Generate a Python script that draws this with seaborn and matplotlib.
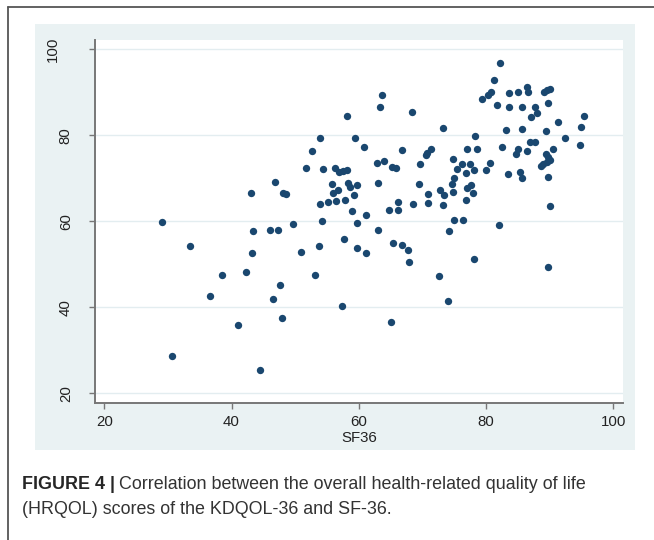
import numpy as np
import pandas as pd
import seaborn as sns
import matplotlib.pyplot as plt
from matplotlib.lines import Line2D
from matplotlib.patches import Rectangle

# values: SF36 (x) against KDQOL-36 overall score (y)
sf36 = [58.1, 53.9, 59.4, 52.7, 51.7, 54.4, 56.3, 56.9, 57.5, 58.1,
        46.8, 43.0, 48.1, 48.6, 55.8, 56.7, 56.0, 58.3, 58.7, 59.7,
        59.3, 57.8, 56.4, 55.2, 53.9, 58.9, 49.7, 54.2, 59.8, 29.0,
        43.4, 46.1, 47.3, 33.4, 53.8, 57.7, 59.8, 43.3, 50.9, 38.5,
        42.3, 53.1, 47.6, 36.6, 46.5, 57.4, 47.9, 41.1, 30.7, 44.5,
        82.2, 81.2, 79.4, 80.3, 80.8, 81.7, 83.7, 85.1, 86.5, 86.6,
        89.1, 89.6, 90.0, 83.7, 85.6, 87.7, 88.1, 87.1, 89.8, 63.6,
        63.4, 68.3, 95.4, 91.4, 95.0, 73.3, 83.1, 85.7, 89.5, 92.5,
        94.8, 78.3, 77.1, 78.6, 60.8, 66.8, 82.6, 86.9, 87.7, 90.6,
        85.1, 84.8, 86.5, 89.5, 89.8, 90.1, 89.6, 89.0, 88.6, 71.3,
        70.8, 70.6, 74.8, 80.7, 80.0, 69.6, 62.9, 63.9, 65.2, 65.9,
        76.2, 77.5, 75.4, 76.8, 78.2, 83.4, 85.3, 85.6, 89.7, 75.0,
        74.7, 74.8, 73.4, 72.8, 69.4, 70.9, 70.9, 73.3, 68.5, 66.2,
        66.1, 64.7, 63.0, 77.0, 77.7, 77.9, 76.8, 61.1, 75.0, 76.4,
        82.0, 90.1, 74.2, 63.1, 61.2, 65.4, 66.8, 67.7, 67.9, 78.2,
        72.7, 74.0, 89.7, 65.0]
kdqol = [84.6, 79.5, 79.5, 76.4, 72.5, 72.2, 72.3, 71.5, 71.7, 72.0,
         69.1, 66.6, 66.5, 66.3, 68.8, 67.4, 66.5, 68.9, 68.0, 68.4,
         66.2, 64.9, 64.7, 64.4, 64.0, 62.4, 59.3, 60.1, 59.7, 59.9,
         57.8, 58.1, 58.0, 54.2, 54.2, 56.0, 53.9, 52.7, 52.9, 47.6,
         48.1, 47.4, 45.1, 42.6, 42.0, 40.3, 37.6, 35.9, 28.6, 25.4,
         96.8, 92.9, 88.4, 89.5, 90.0, 87.1, 89.8, 90.0, 91.2, 90.1,
         90.1, 90.5, 90.8, 86.5, 86.7, 86.6, 85.3, 84.3, 87.5, 89.5,
         86.7, 85.5, 84.4, 83.1, 81.9, 81.6, 81.2, 81.5, 81.1, 79.5,
         77.7, 79.9, 76.8, 76.9, 77.3, 76.7, 77.3, 78.4, 78.4, 76.8,
         76.9, 75.7, 76.4, 75.7, 74.9, 74.3, 73.8, 73.3, 72.9, 76.8,
         75.8, 75.4, 74.6, 73.6, 71.9, 73.3, 73.6, 74.1, 72.6, 72.3,
         73.3, 73.3, 72.1, 71.3, 71.9, 70.9, 71.4, 70.1, 70.4, 70.1,
         68.7, 66.9, 66.1, 67.4, 68.7, 66.3, 64.3, 63.9, 64.0, 64.4,
         62.6, 62.6, 68.9, 67.7, 68.4, 66.5, 65.0, 61.4, 60.2, 60.3,
         59.2, 63.6, 57.7, 58.0, 52.7, 54.9, 54.5, 53.4, 50.6, 51.2,
         47.2, 41.4, 49.3, 36.6]

x_ticks = [20, 40, 60, 80, 100]
y_ticks = [20, 40, 60, 80, 100]

sns.set_theme(style="white")
plt.rcParams['font.family'] = ['Liberation Sans', 'DejaVu Sans']

W, H = 654, 540
fig = plt.figure(figsize=(W / 100, H / 100), dpi=100)

def fx(px):
    return px / W

def fy(py):
    return 1 - py / H

# grey-blue graph region behind the plot
fig.patches.append(Rectangle((fx(35), fy(450)), fx(635) - fx(35), fy(24) - fy(450),
                             transform=fig.transFigure, facecolor='#eaf2f3',
                             edgecolor='none', zorder=-10))
# page frame, top and left
fig.lines.append(Line2D([fx(8), 1], [fy(7), fy(7)], transform=fig.transFigure,
                        color='#555555', lw=1.3, zorder=-10))
fig.lines.append(Line2D([fx(8), fx(8)], [fy(7), 0], transform=fig.transFigure,
                        color='#555555', lw=1.3, zorder=-10))

ax = fig.add_axes([fx(95), fy(403), fx(623) - fx(95), fy(39.5) - fy(403)])
ax.set_facecolor('white')

df = pd.DataFrame({'SF36': sf36, 'KDQOL': kdqol})
sns.scatterplot(data=df, x='SF36', y='KDQOL', ax=ax, color='#1a476f',
                s=28, linewidth=0, legend=False, zorder=3)

ax.set_xlim(18.54, 101.55)
ax.set_ylim(17.74, 102.3)
ax.set_xticks(x_ticks)
ax.set_yticks(y_ticks)
ax.set_yticklabels([str(t) for t in y_ticks], rotation=90, va='center')
ax.set_ylabel('')
ax.set_xlabel('SF36', fontsize=10.8, color='#222222', labelpad=1)

for t in y_ticks:
    ax.axhline(t, color='#e3edf0', lw=1.0, zorder=1)

for side in ['top', 'right']:
    ax.spines[side].set_visible(False)
for side in ['left', 'bottom']:
    ax.spines[side].set_color('#777777')
    ax.spines[side].set_linewidth(1.4)

ax.tick_params(axis='both', which='major', length=4, width=1, color='#777777',
               labelsize=10.8, labelcolor='#222222', direction='out')
ax.tick_params(axis='y', pad=12, left=True)
ax.tick_params(axis='x', pad=5, bottom=True)
# the top label sits further out in the reference
ax.yaxis.get_major_ticks()[-1].label1.set_x(-13 / 528)

# caption
renderer = fig.canvas.get_renderer()
cap_size = 12.9
t1 = fig.text(fx(22), fy(489), 'FIGURE 4 |', fontsize=cap_size, fontweight='bold',
              color='#262626', va='baseline', ha='left')
bb = t1.get_window_extent(renderer=renderer)
fig.text(bb.x1 / W + fx(4), fy(489),
         'Correlation between the overall health-related quality of life',
         fontsize=cap_size, color='#333333', va='baseline', ha='left')
fig.text(fx(22), fy(514), '(HRQOL) scores of the KDQOL-36 and SF-36.',
         fontsize=cap_size, color='#333333', va='baseline', ha='left')

fig.savefig('out.png', dpi=100)
